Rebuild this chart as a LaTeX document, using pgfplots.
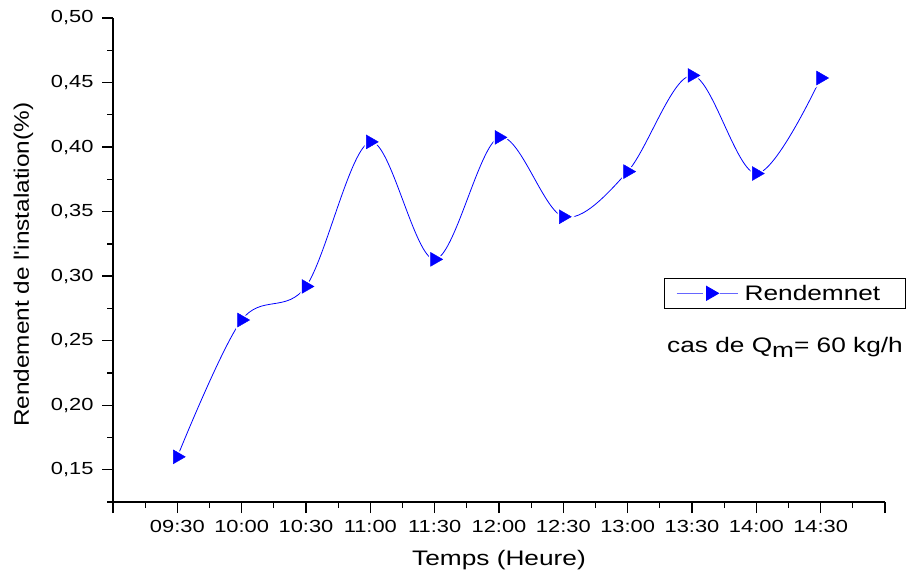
\documentclass[border=0pt]{standalone}
\usepackage{fontspec}
\setmainfont{Liberation Sans}[FakeStretch=1.25]
\newfontfamily\ylabfont{Liberation Sans}[FakeStretch=1.16]
\usepackage{pgfplots}
\usepackage{pgfplotstable}
\pgfplotsset{compat=1.18}

% Rendement de l'installation, relevé toutes les 30 min (x = 1 -> 09:30)
\pgfplotstableread{
x   y
1   0.160
2   0.266
3   0.292
4   0.404
5   0.313
6   0.4075
7   0.346
8   0.381
9   0.4555
10  0.3795
11  0.4535
}\rendement

\begin{document}
\begin{tikzpicture}
\begin{axis}[
  width=772bp, height=484bp, scale only axis,
  xmin=0, xmax=12, ymin=0.125, ymax=0.50,
  axis x line*=bottom, axis y line*=left,
  axis line style={line width=1.6bp, black, -},
  xtick={0,1,2,3,4,5,6,7,8,9,10,11,12},
  xticklabels={,09:30,10:00,10:30,11:00,11:30,12:00,12:30,13:00,13:30,14:00,14:30,},
  minor xtick={0.5,1.5,2.5,3.5,4.5,5.5,6.5,7.5,8.5,9.5,10.5,11.5},
  ytick={0.15,0.20,0.25,0.30,0.35,0.40,0.45,0.50},
  minor ytick={0.125,0.175,0.225,0.275,0.325,0.375,0.425,0.475},
  tick align=outside,
  major tick length=11bp, minor tick length=6bp,
  every tick/.style={black, line width=1.3bp},
  ticklabel style={font=\fontsize{17.5bp}{20bp}\selectfont},
  yticklabel style={xshift=-5bp, /pgf/number format/.cd, fixed, fixed zerofill, precision=2, use comma, assume math mode=true},
  xticklabel style={yshift=-4bp},
  xlabel={Temps (Heure)},
  ylabel={\ylabfont Rendement de l'instalation(\%)},
  label style={font=\fontsize{21bp}{24bp}\selectfont},
  xlabel style={at={(axis description cs:0.5,-0.12)}, anchor=center},
  ylabel style={at={(axis description cs:-0.116,0.49)}, anchor=center},
  legend style={at={(rel axis cs:0.714,0.463)}, anchor=north west,
    draw=black, line width=0.8bp, font=\fontsize{21bp}{24bp}\selectfont,
    inner xsep=0bp, inner ysep=0bp},
  legend cell align=left,
  clip=false,
]
% courbe lissée
\addplot[blue, line width=0.8bp, smooth, tension=0.55, forget plot] table[x=x, y=y] {\rendement};
% halo blanc autour des marqueurs
\addplot[only marks, mark=triangle*, mark size=11bp, white,
  mark options={rotate=-90, fill=white, draw=white}, forget plot] table[x=x, y=y] {\rendement};
% marqueurs
\addplot[only marks, mark=triangle*, mark size=8bp,
  mark options={rotate=-90, fill=blue, draw=blue}, forget plot] table[x=x, y=y] {\rendement};

\addlegendimage{legend image code/.code={
  \draw[blue!60, line width=0.8bp] (12bp,0bp) -- (38bp,0bp);
  \draw[blue!60, line width=0.8bp] (55bp,0bp) -- (73bp,0bp);
  \begin{scope}[shift={(46bp,0bp)}, rotate=-90]
    \pgfsetfillcolor{blue}\pgfsetstrokecolor{blue}
    \pgfsetplotmarksize{8bp}\pgfuseplotmark{triangle*}
  \end{scope}
  \path[draw=none, fill=none] (0bp,-15bp) rectangle (78bp,15bp);
}}
\addlegendentry{Rendemnet\rule{23bp}{0bp}}

\node[anchor=base west, font=\fontsize{21bp}{24bp}\selectfont, inner sep=0pt]
  at (rel axis cs:0.7176,0.308) {cas de Q\raisebox{-0.4ex}{m}= 60 kg/h};

\coordinate (bl) at (rel axis cs:0,0);
\end{axis}
\pgfresetboundingbox
\path (bl) ++(-113bp,-75bp) rectangle ++(914bp,577bp);
\end{tikzpicture}
\end{document}
